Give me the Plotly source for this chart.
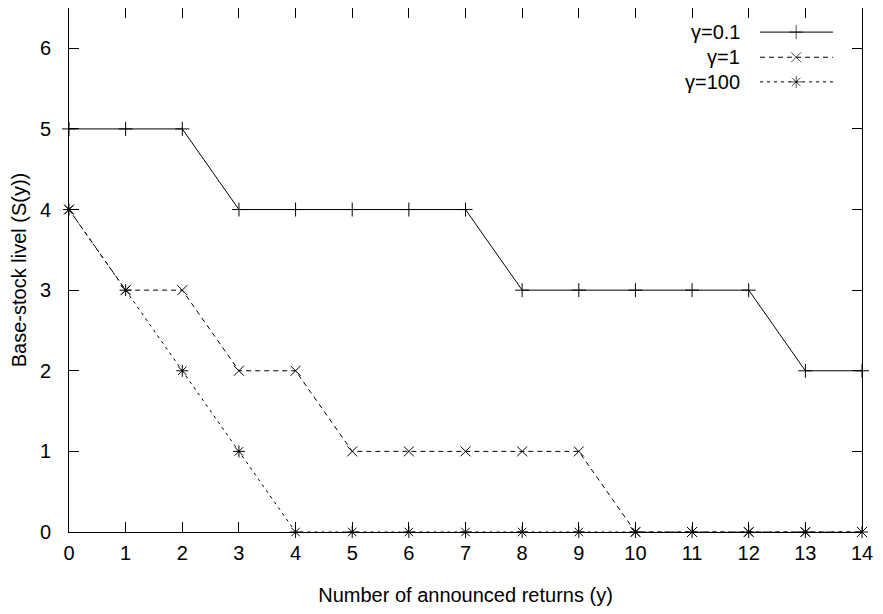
import plotly.graph_objects as go

x_vals = list(range(15))
s_g01 = [5, 5, 5, 4, 4, 4, 4, 4, 3, 3, 3, 3, 3, 2, 2]
s_g1 = [4, 3, 3, 2, 2, 1, 1, 1, 1, 1, 0, 0, 0, 0, 0]
s_g100 = [4, 3, 2, 1, 0, 0, 0, 0, 0, 0, 0, 0, 0, 0, 0]
names = ["γ=0.1", "γ=1", "γ=100"]
x_ticks = list(range(15))
y_ticks = list(range(7))

FONT = "Liberation Sans, Arial, Helvetica, sans-serif"
styles = [
    dict(dash="solid", symbol="cross-thin-open"),
    dict(dash="5px,4px", symbol="x-thin-open"),
    dict(dash="3px,4px", symbol="asterisk-open"),
]

fig = go.Figure()
for vals, name, st in zip([s_g01, s_g1, s_g100], names, styles):
    fig.add_trace(go.Scatter(
        x=x_vals, y=vals, mode="lines+markers", name=name, showlegend=False,
        line=dict(color="black", width=1, dash=st["dash"]),
        marker=dict(symbol=st["symbol"], size=10, color="black",
                    line=dict(color="black", width=1)),
        cliponaxis=False,
    ))

# legend (gnuplot style: text left, sample right) drawn on hidden overlay axes
leg_y = [0.954, 0.906, 0.859]
for name, st, ly in zip(names, styles, leg_y):
    fig.add_trace(go.Scatter(
        x=[0.8714, 0.917, 0.9634], y=[ly, ly, ly], mode="lines+markers",
        xaxis="x2", yaxis="y2", showlegend=False, hoverinfo="skip",
        line=dict(color="black", width=1, dash=st["dash"]),
        marker=dict(symbol=st["symbol"], size=[0, 10, 0], color="black",
                    line=dict(color="black", width=1)),
    ))
    fig.add_annotation(x=0.8487, y=ly, xref="paper", yref="paper",
                       text=name, showarrow=False, xanchor="right",
                       yanchor="middle",
                       font=dict(family=FONT, size=20, color="black"))

axis_common = dict(
    showline=True, linecolor="black", linewidth=1, mirror="ticks",
    ticks="inside", ticklen=10, tickwidth=1, tickcolor="black",
    showgrid=False, zeroline=False,
    tickfont=dict(family=FONT, size=20, color="black"),
)

# page body has an 8px margin; compensate so the plot lands where it should
fig.update_layout(
    width=867, height=598,
    margin=dict(l=61, r=13, t=0, b=74),
    paper_bgcolor="white", plot_bgcolor="white",
    showlegend=False,
    xaxis=dict(range=[0, 14], tickvals=x_ticks, ticklabelstandoff=3,
               title=dict(text="Number of announced returns (y)",
                          font=dict(family=FONT, size=20, color="black"),
                          standoff=28),
               **axis_common),
    yaxis=dict(range=[0, 6.5], tickvals=y_ticks, ticklabelstandoff=13,
               title=dict(text="Base-stock livel (S(y))",
                          font=dict(family=FONT, size=20, color="black"),
                          standoff=7),
               **axis_common),
    xaxis2=dict(range=[0, 1], overlaying="x", visible=False),
    yaxis2=dict(range=[0, 1], overlaying="y", visible=False),
)

fig.write_html("out.html")
